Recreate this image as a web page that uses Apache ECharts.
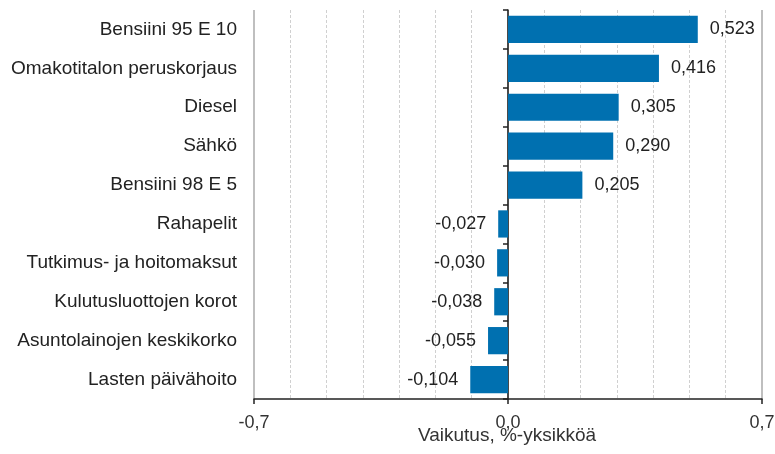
<!DOCTYPE html>
<html>
<head>
<meta charset="utf-8">
<script src="https://cdn.jsdelivr.net/npm/echarts@6/dist/echarts.min.js"></script>
<style>
html,body{margin:0;padding:0;background:#fff;}
#chart{width:775px;height:454px;}
</style>
</head>
<body>
<div id="chart"></div>
<script>
var categories = ["Bensiini 95 E 10","Omakotitalon peruskorjaus","Diesel","Sähkö","Bensiini 98 E 5","Rahapelit","Tutkimus- ja hoitomaksut","Kulutusluottojen korot","Asuntolainojen keskikorko","Lasten päivähoito"];
var values = [0.523,0.416,0.305,0.290,0.205,-0.027,-0.030,-0.038,-0.055,-0.104];
var axisName = "Vaikutus, %-yksikköä";

var font = "'Liberation Sans', Arial, sans-serif";
var fmt = function(v, d){ return v.toFixed(d).replace('.', ','); };

var chart = echarts.init(document.getElementById('chart'));
chart.setOption({
  animation:false,
  textStyle:{fontFamily:font},
  title:{text:axisName,left:507,top:426,textAlign:'center',padding:0,
    textStyle:{fontFamily:font,fontSize:19,fontWeight:'normal',color:'#333'}},
  grid:{left:254,right:13,top:10,bottom:55,containLabel:false,outerBoundsMode:'none'},
  xAxis:{
    type:'value', min:-0.7, max:0.7, interval:0.7,
    axisLine:{show:true,onZero:false,lineStyle:{color:'#222',width:1.5}},
    axisTick:{show:true,length:5,lineStyle:{color:'#222',width:1.5}},
    axisLabel:{fontFamily:font,fontSize:18,color:'#333',margin:15,formatter:function(v){return fmt(v,1);}},
    splitLine:{show:true,lineStyle:{color:'#aaa',width:1.5,type:'solid'}},
    minorTick:{show:false,splitNumber:7},
    minorSplitLine:{show:true,lineStyle:{color:'#d0d0d0',width:1,type:[3,2]}}
  },
  yAxis:[{
    type:'category', data:categories, inverse:true, position:'left',
    axisLine:{show:false,onZero:false},
    axisTick:{show:false},
    axisLabel:{fontFamily:font,fontSize:19,color:'#222',margin:17},
    splitLine:{show:false}
  },{
    type:'category', data:categories, inverse:true, position:'left',
    axisLine:{show:true,onZero:true,lineStyle:{color:'#222',width:1.5}},
    axisTick:{show:true,length:5,lineStyle:{color:'#222',width:1.5}},
    axisLabel:{show:false},
    splitLine:{show:false}
  }],
  series:[{
    type:'bar', yAxisIndex:0,
    barCategoryGap:'30%',
    itemStyle:{color:'#0070b0'},
    data:values.map(function(v){
      return {value:v,label:{show:true,position:v>=0?'right':'left',distance:12,
        fontFamily:font,fontSize:18,color:'#222',formatter:function(p){return fmt(p.value,3);}}};
    })
  }]
});
</script>
</body>
</html>
